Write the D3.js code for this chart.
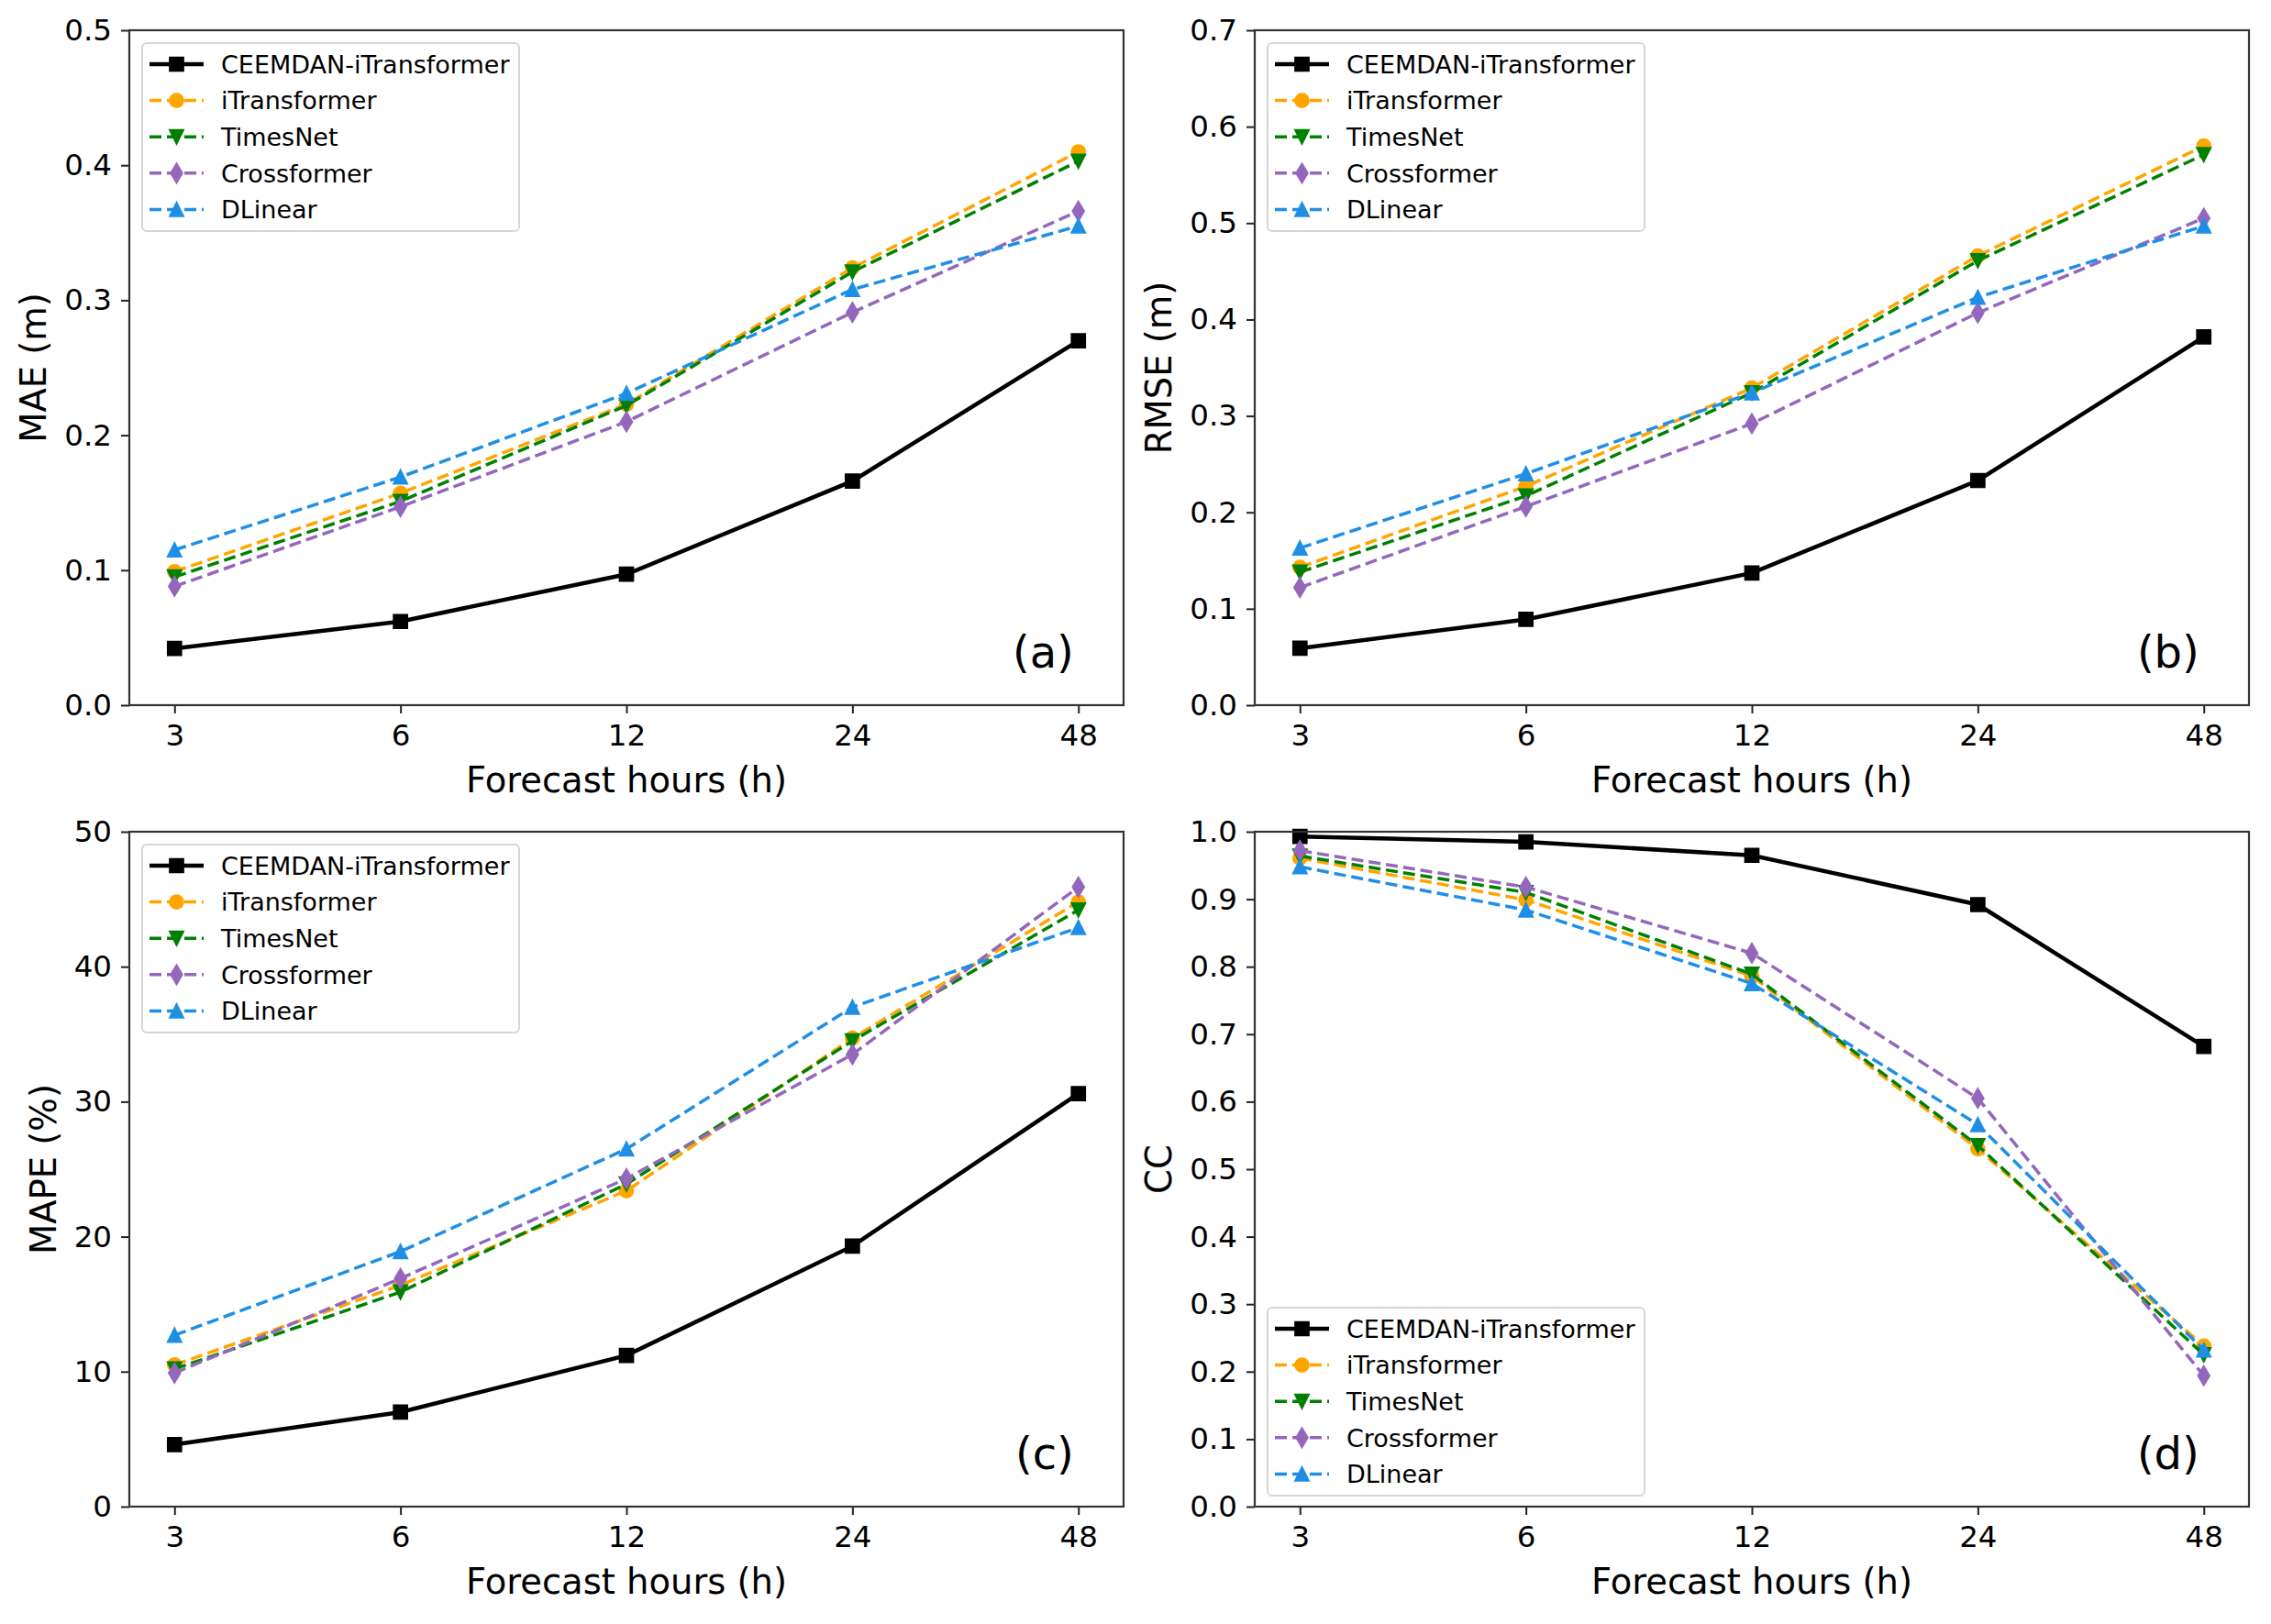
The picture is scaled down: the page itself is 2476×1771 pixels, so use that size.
<!DOCTYPE html>
<html>
<head>
<meta charset="utf-8">
<script src="https://cdn.jsdelivr.net/npm/d3@7"></script>
<style>
  body { margin: 0; background: #fff; }
  text { font-family: "DejaVu Sans", sans-serif; fill: #000; }
</style>
</head>
<body>
<script>
// categories
const hours = ["3", "6", "12", "24", "48"];
const models = ["CEEMDAN-iTransformer", "iTransformer", "TimesNet", "Crossformer", "DLinear"];

// values, one row per model
const maeValues = [
  [0.042, 0.062, 0.097, 0.166, 0.270],
  [0.099, 0.157, 0.223, 0.324, 0.410],
  [0.095, 0.151, 0.222, 0.321, 0.403],
  [0.088, 0.147, 0.210, 0.291, 0.366],
  [0.115, 0.169, 0.231, 0.308, 0.355]
];
const rmseValues = [
  [0.059, 0.089, 0.137, 0.233, 0.382],
  [0.143, 0.227, 0.329, 0.466, 0.580],
  [0.138, 0.217, 0.324, 0.461, 0.571],
  [0.122, 0.206, 0.292, 0.407, 0.505],
  [0.163, 0.240, 0.324, 0.423, 0.497]
];
const mapeValues = [
  [4.6, 7.0, 11.2, 19.3, 30.6],
  [10.5, 16.4, 23.4, 34.7, 44.8],
  [10.2, 15.9, 23.9, 34.5, 44.2],
  [9.9, 16.9, 24.3, 33.5, 45.9],
  [12.7, 18.9, 26.5, 37.0, 42.9]
];
const ccValues = [
  [0.993, 0.985, 0.965, 0.892, 0.682],
  [0.961, 0.899, 0.786, 0.530, 0.238],
  [0.964, 0.910, 0.789, 0.535, 0.225],
  [0.972, 0.918, 0.820, 0.605, 0.194],
  [0.948, 0.884, 0.775, 0.566, 0.232]
];

// tick labels
const maeTicks = [0, 0.1, 0.2, 0.3, 0.4, 0.5];
const rmseTicks = [0, 0.1, 0.2, 0.3, 0.4, 0.5, 0.6, 0.7];
const mapeTicks = [0, 10, 20, 30, 40, 50];
const ccTicks = [0, 0.1, 0.2, 0.3, 0.4, 0.5, 0.6, 0.7, 0.8, 0.9, 1.0];

// styles
const colors = ["#000000", "#FFA500", "#008000", "#9467bd", "#1f8fe5"];
const dashed = [false, true, true, true, true];

// matplotlib-like marker shapes (size = marker width in px)
const mk = {
  square: { draw(c, s) { const h = s / 2; c.moveTo(-h, -h); c.lineTo(h, -h); c.lineTo(h, h); c.lineTo(-h, h); c.closePath(); } },
  circle: { draw(c, s) { c.moveTo(s / 2, 0); c.arc(0, 0, s / 2, 0, 2 * Math.PI); } },
  triDown: { draw(c, s) { const h = s / 2; c.moveTo(0, h); c.lineTo(-h, -h); c.lineTo(h, -h); c.closePath(); } },
  thinDiamond: { draw(c, s) { const v = 0.707 * s, w = 0.424 * s; c.moveTo(0, -v); c.lineTo(w, 0); c.lineTo(0, v); c.lineTo(-w, 0); c.closePath(); } },
  triUp: { draw(c, s) { const h = s / 2; c.moveTo(0, -h); c.lineTo(-h, h); c.lineTo(h, h); c.closePath(); } }
};
const markers = [mk.square, mk.circle, mk.triDown, mk.thinDiamond, mk.triUp];
const markerSize = 14.5;

const W = 2476, H = 1771;
const cols = [[141, 1225], [1368, 2452]];
const rows = [[33, 769], [907, 1643]];

const panels = [
  { values: maeValues, ticks: maeTicks, fmt: d3.format(".1f"), label: "MAE (m)", tag: "(a)", col: 0, row: 0, legend: "top" },
  { values: rmseValues, ticks: rmseTicks, fmt: d3.format(".1f"), label: "RMSE (m)", tag: "(b)", col: 1, row: 0, legend: "top" },
  { values: mapeValues, ticks: mapeTicks, fmt: d3.format("d"), label: "MAPE (%)", tag: "(c)", col: 0, row: 1, legend: "top" },
  { values: ccValues, ticks: ccTicks, fmt: d3.format(".1f"), label: "CC", tag: "(d)", col: 1, row: 1, legend: "bottom" }
];

const svg = d3.select("body").append("svg")
  .attr("width", W)
  .attr("height", H);
svg.append("rect").attr("width", W).attr("height", H).attr("fill", "#fff");

const symbol = d3.symbol();

function styleAxis(a) {
  a.select(".domain").remove();
  a.selectAll(".tick line").attr("stroke", "#222").attr("stroke-width", 2);
  a.selectAll(".tick text").attr("font-size", 32.5).attr("font-family", "DejaVu Sans").attr("fill", "#000");
}

panels.forEach(p => {
  const [x0, x1] = cols[p.col];
  const [y0, y1] = rows[p.row];
  const x = d3.scaleLinear().domain([-0.2, hours.length - 1 + 0.2]).range([x0, x1]);
  const y = d3.scaleLinear().domain([p.ticks[0], p.ticks[p.ticks.length - 1]]).range([y1, y0]);
  const g = svg.append("g");

  // lines + markers
  const line = d3.line().x((d, i) => x(i)).y(d => y(d));
  p.values.forEach((vals, m) => {
    g.append("path")
      .datum(vals)
      .attr("fill", "none")
      .attr("stroke", colors[m])
      .attr("stroke-width", dashed[m] ? 3.5 : 4.5)
      .attr("stroke-dasharray", dashed[m] ? "13,6" : null)
      .attr("d", line);
    g.selectAll(null)
      .data(vals)
      .enter()
      .append("path")
      .attr("transform", (d, i) => `translate(${x(i)},${y(d)})`)
      .attr("d", symbol.type(markers[m]).size(markerSize))
      .attr("fill", colors[m])
      .attr("stroke", colors[m])
      .attr("stroke-width", 2.2);
  });

  // axes
  const xa = g.append("g")
    .attr("transform", `translate(0,${y1})`)
    .call(d3.axisBottom(x).tickValues(d3.range(hours.length)).tickFormat(i => hours[i])
      .tickSize(9).tickSizeOuter(0).tickPadding(12));
  styleAxis(xa);

  const ya = g.append("g")
    .attr("transform", `translate(${x0},0)`)
    .call(d3.axisLeft(y).tickValues(p.ticks).tickFormat(p.fmt)
      .tickSize(9).tickSizeOuter(0).tickPadding(10));
  styleAxis(ya);

  g.append("rect")
    .attr("x", x0).attr("y", y0)
    .attr("width", x1 - x0).attr("height", y1 - y0)
    .attr("fill", "none")
    .attr("stroke", "#333")
    .attr("stroke-width", 2.2);

  // axis labels
  g.append("text")
    .attr("x", (x0 + x1) / 2)
    .attr("y", y1 + 95)
    .attr("text-anchor", "middle")
    .attr("font-size", 38.5)
    .text("Forecast hours (h)");

  // bbox is in the axis group's own coordinates
  const bb = ya.node().getBBox();
  g.append("text")
    .attr("transform", `translate(${x0 + bb.x - 20},${(y0 + y1) / 2}) rotate(-90)`)
    .attr("text-anchor", "middle")
    .attr("font-size", 38.5)
    .text(p.label);

  // panel tag
  g.append("text")
    .attr("x", x1 - 0.05 * (x1 - x0))
    .attr("y", y1 - 41)
    .attr("text-anchor", "end")
    .attr("font-size", 48)
    .text(p.tag);

  // legend
  const boxW = 411, boxH = 205;
  const ly = p.legend === "top" ? y0 + 14 : y1 - 12 - boxH;
  const leg = g.append("g").attr("transform", `translate(${x0 + 14},${ly})`);
  leg.append("rect")
    .attr("width", boxW).attr("height", boxH)
    .attr("rx", 5)
    .attr("fill", "#fff").attr("fill-opacity", 0.8)
    .attr("stroke", "#d6d6d6").attr("stroke-width", 2);

  const item = leg.selectAll(".item")
    .data(models)
    .enter()
    .append("g")
    .attr("class", "item")
    .attr("transform", (d, i) => `translate(0,${23 + i * 39.6})`);

  item.append("line")
    .attr("x1", 8).attr("x2", 67)
    .attr("stroke", (d, i) => colors[i])
    .attr("stroke-width", (d, i) => dashed[i] ? 3.5 : 4.5)
    .attr("stroke-dasharray", (d, i) => dashed[i] ? "13,6" : null);

  item.append("path")
    .attr("transform", "translate(37.5,0)")
    .attr("d", (d, i) => symbol.type(markers[i]).size(markerSize)())
    .attr("fill", (d, i) => colors[i])
    .attr("stroke", (d, i) => colors[i])
    .attr("stroke-width", 2.2);

  item.append("text")
    .attr("x", 86)
    .attr("dy", "0.36em")
    .attr("font-size", 27)
    .text(d => d);
});
</script>
</body>
</html>
